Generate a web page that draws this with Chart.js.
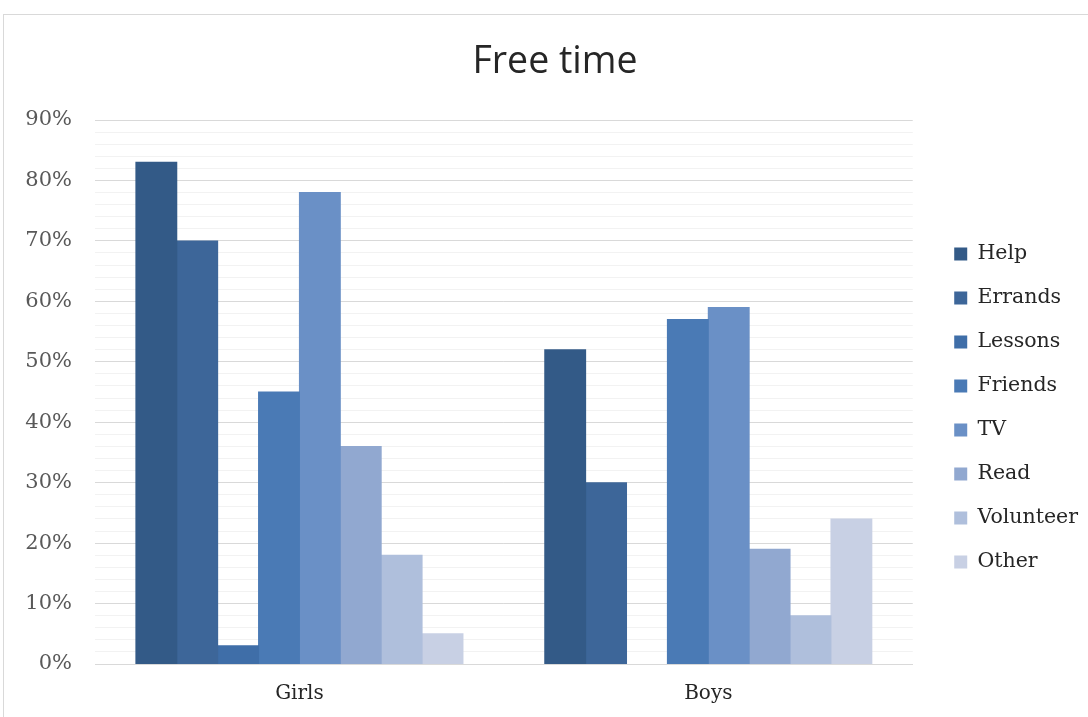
<!DOCTYPE html>
<html>
<head>
<meta charset="utf-8">
<script src="https://cdn.jsdelivr.net/npm/chart.js@4/dist/chart.umd.min.js"></script>
<style>
  html, body { margin: 0; padding: 0; background: #fff; }
  #wrap { position: relative; width: 1088px; height: 717px; overflow: hidden; }
  #frame { position: absolute; left: 3px; top: 14px; width: 1100px; height: 720px;
           border: 1px solid #d9d9d9; box-sizing: border-box; }
  canvas { position: absolute; left: 0; top: 0; }
</style>
</head>
<body>
<div id="wrap">
  <div id="frame"></div>
  <canvas id="c" width="1088" height="717"></canvas>
</div>
<script>
const categories = ['Girls', 'Boys'];
const activities = ['Help', 'Errands', 'Lessons', 'Friends', 'TV', 'Read', 'Volunteer', 'Other'];
const girls = [83, 70, 3, 45, 78, 36, 18, 5];
const boys = [52, 30, 0, 57, 59, 19, 8, 24];
const colors = ['#335a87', '#3d6699', '#3f6ea8', '#4a7ab5', '#6a90c6', '#91a8d0', '#afbfdc', '#c8d0e4'];
const yMax = 90;

const datasets = activities.map((name, i) => ({
  label: name,
  data: [girls[i], boys[i]],
  backgroundColor: colors[i],
  borderWidth: 0,
  // close the hairline seams between neighbouring bars, but keep empty bars empty
  inflateAmount: ctx => (ctx.raw ? 0.5 : 0),
  categoryPercentage: 0.8,
  barPercentage: 1.0
}));

new Chart(document.getElementById('c'), {
  type: 'bar',
  data: { labels: categories, datasets },
  options: {
    responsive: false,
    animation: false,
    layout: { padding: { left: 22, right: 0, top: 20, bottom: 1 } },
    plugins: {
      title: {
        display: true,
        text: 'Free time',
        color: '#262626',
        font: { family: 'Open Sans', size: 37.5, weight: 'normal' },
        padding: { top: 20, bottom: 35 }
      },
      legend: {
        position: 'right',
        title: { display: true, text: ' ', font: { size: 10 }, padding: { top: 34, bottom: 34 } },
        labels: {
          color: '#262626',
          font: { family: 'DejaVu Serif', size: 20.5 },
          boxWidth: 13,
          boxHeight: 13,
          padding: 23.5
        }
      },
      tooltip: { enabled: false }
    },
    scales: {
      x: {
        grid: { display: false },
        border: { color: '#d9d9d9', width: 1 },
        ticks: { color: '#262626', font: { family: 'DejaVu Serif', size: 20 }, padding: 10 }
      },
      y: {
        min: 0,
        max: yMax,
        border: { display: false },
        afterFit: s => { s.width = 73; },
        grid: {
          color: ctx => (ctx.tick && ctx.tick.value % 10 === 0) ? '#d9d9d9' : '#f2f2f2',
          lineWidth: 1,
          drawTicks: false
        },
        ticks: {
          stepSize: 2,
          autoSkip: false,
          padding: 23,
          color: '#595959',
          font: { family: 'DejaVu Serif', size: 21 },
          callback: v => (v % 10 === 0 ? v + '%' : '')
        }
      },
      gap: {
        position: 'right',
        display: true,
        afterFit: s => { s.width = 18; },
        grid: { display: false },
        border: { display: false },
        ticks: { display: false }
      }
    }
  }
});
</script>
</body>
</html>
